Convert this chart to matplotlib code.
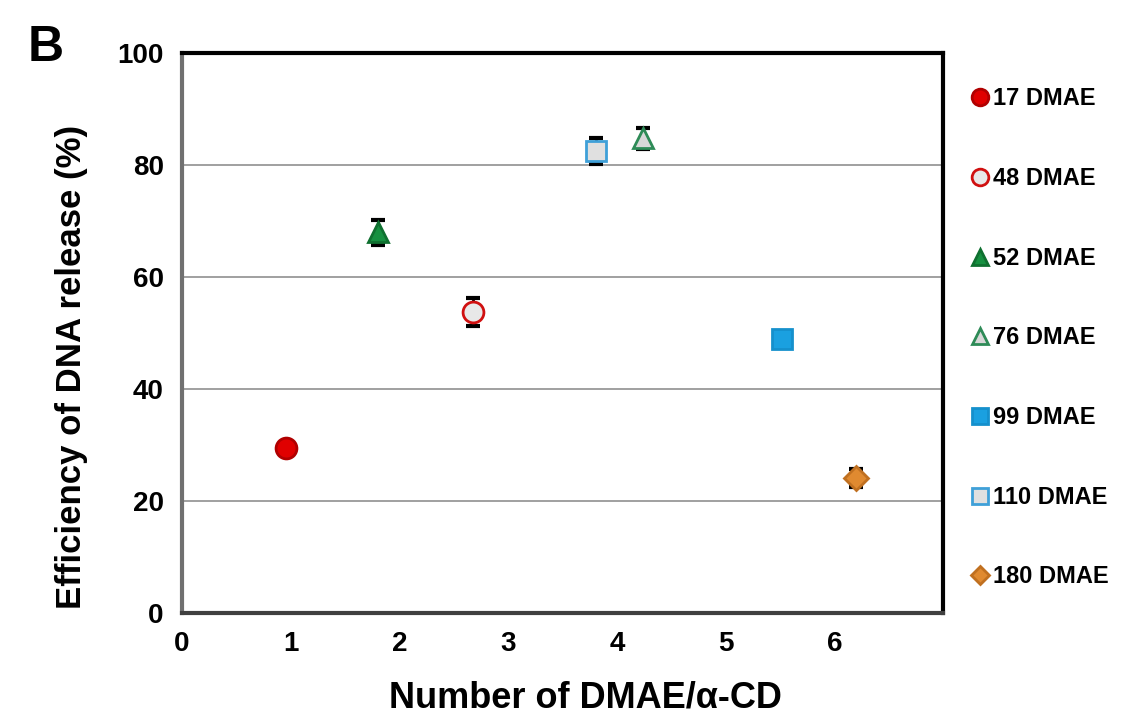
import matplotlib
matplotlib.use("Agg")
import matplotlib.pyplot as plt

plt.rcParams['font.family'] = ['Liberation Sans', 'DejaVu Sans']
plt.rcParams['font.weight'] = 'bold'

# data
labels = ['17 DMAE', '48 DMAE', '52 DMAE', '76 DMAE', '99 DMAE', '110 DMAE', '180 DMAE']
x_vals = [0.96, 2.68, 1.80, 4.24, 5.52, 3.81, 6.20]
y_vals = [29.5, 53.7, 68.0, 84.8, 48.9, 82.5, 24.1]
y_err = [0.0, 2.5, 2.3, 1.9, 0.0, 2.3, 1.6]

# marker style per series: (marker, face, edge)
styles = [('o', '#e00000', '#b00000'),
          ('o', '#e8e8e8', '#d01010'),
          ('^', '#169040', '#0f7030'),
          ('^', '#d8d8d8', '#2e8b57'),
          ('s', '#1aa0e0', '#1590cc'),
          ('s', '#e0e0e0', '#3fa0d8'),
          ('D', '#e08a30', '#c07020')]

fig = plt.figure(figsize=(11.23, 7.2), dpi=100)
ax = fig.add_axes([0.162, 0.1486, 0.6777, 0.7774])

handles = []
for i in range(len(labels)):
    m, fc, ec = styles[i]
    ms = 12 if m == 'D' else 15
    if y_err[i] > 0:
        ax.errorbar(x_vals[i], y_vals[i], yerr=y_err[i], fmt='none',
                    ecolor='black', elinewidth=2, capsize=5, capthick=3, zorder=2)
    h, = ax.plot(x_vals[i], y_vals[i], linestyle='none', marker=m, markersize=ms,
                 markerfacecolor=fc, markeredgecolor=ec, markeredgewidth=2, zorder=3,
                 label=labels[i])
    handles.append(h)

ax.set_xlim(0, 7)
ax.set_ylim(0, 100)
ax.set_xticks([0, 1, 2, 3, 4, 5, 6])
ax.set_yticks([0, 20, 40, 60, 80, 100])
ax.tick_params(length=0, labelsize=20, pad=13)
ax.yaxis.grid(True, color='#909090', linewidth=1.2)
ax.set_axisbelow(True)

for s in ['top', 'right']:
    ax.spines[s].set_linewidth(3)
    ax.spines[s].set_color('black')
ax.spines['left'].set_linewidth(3)
ax.spines['left'].set_color('#707070')
ax.spines['bottom'].set_linewidth(3)
ax.spines['bottom'].set_color('#404040')

ax.set_xlabel('Number of DMAE/α-CD', fontsize=26, fontweight='bold')
ax.set_ylabel('Efficiency of DNA release (%)', fontsize=25, fontweight='bold')
ax.yaxis.set_label_coords(-0.124, 0.44)
ax.xaxis.set_label_coords(0.53, -0.12)

fig.legend(handles=handles, labels=labels, loc='upper left',
           bbox_to_anchor=(0.847, 0.908), frameon=False, fontsize=17,
           handlelength=0.6, handletextpad=0.25, labelspacing=2.4,
           markerscale=0.8)

fig.text(0.025, 0.965, 'B', fontsize=36, fontweight='bold', va='top')

fig.savefig('out.png', dpi=100)
